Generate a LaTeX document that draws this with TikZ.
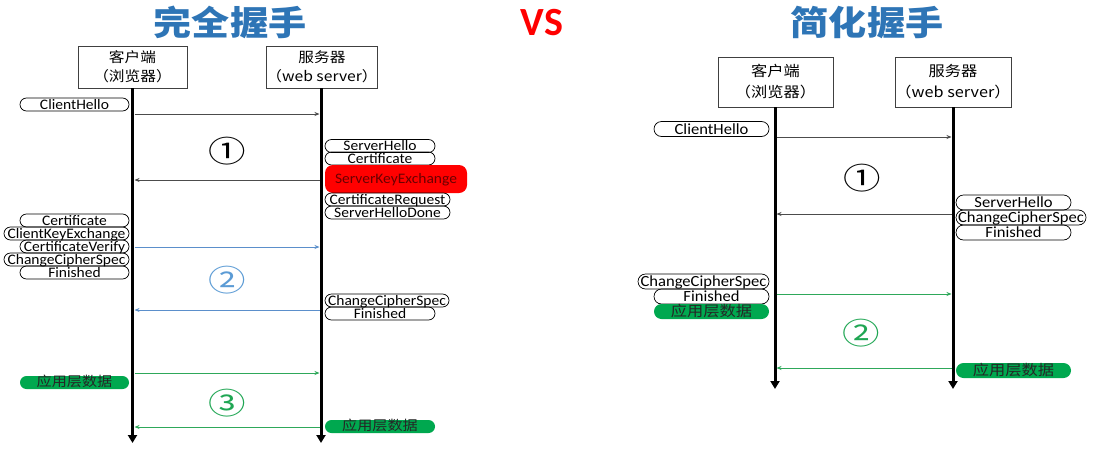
\documentclass[tikz,border=0pt]{standalone}
\usepackage{fontspec}
\setmainfont{Carlito}
\newfontfamily\cjkw[FakeStretch=1.12]{Noto Sans CJK SC}
\newfontfamily\numf[FakeStretch=1.25]{Noto Sans CJK SC}
\newfontfamily\pillf[FakeStretch=1.07]{Carlito}
\usetikzlibrary{arrows.meta}
\definecolor{titleblue}{HTML}{2E75B6}
\definecolor{vsred}{HTML}{FF0000}
\definecolor{msgblue}{HTML}{5B8FCB}
\definecolor{numblue}{HTML}{5B9BD5}
\definecolor{msggreen}{HTML}{2EA85A}
\definecolor{numgreen}{HTML}{1FA653}
\definecolor{pillgreen}{HTML}{00A84F}
\definecolor{keyred}{HTML}{FF0000}
\definecolor{keytext}{HTML}{6A0000}
\tikzset{
 party/.style={draw=black!75, line width=0.9pt, fill=white, align=center, inner sep=0pt},
 partyL/.style={party, minimum height=42pt, font=\cjkw\fontsize{14}{19}\selectfont},
 partyR/.style={party, minimum height=50pt, font=\cjkw\fontsize{14.5}{21}\selectfont},
 life/.style={line width=3pt, -{Triangle[width=9pt,length=8pt]}},
 msg/.style={line width=0.9pt, -{Stealth[length=5pt,width=4pt]}},
 msgblack/.style={msg, draw=black!70},
 msgb/.style={msg, draw=msgblue},
 msgg/.style={msg, draw=msggreen},
 pill/.style={draw, line width=0.7pt, inner sep=0pt, minimum height=13pt, rounded corners=6.5pt, text height=11pt, text depth=2pt, font=\pillf\fontsize{14.5}{14.5}\selectfont},
 bigpill/.style={pill, minimum height=15pt, rounded corners=7.5pt, text height=12.5pt, text depth=2.5pt, font=\pillf\fontsize{15.5}{15.5}\selectfont},
 gpill/.style={pill, draw=none, fill=pillgreen, text=black!85, text height=10.5pt, text depth=2.5pt, font=\cjkw\fontsize{13.5}{13.5}\selectfont},
 gbigpill/.style={bigpill, draw=none, fill=pillgreen, text=black!85, text height=12pt, text depth=3pt, font=\cjkw\fontsize{14.5}{14.5}\selectfont},
 keypill/.style={pill, draw=none, fill=keyred, text=keytext, minimum height=28pt, rounded corners=8pt, text height=11pt, text depth=1.5pt},
 title/.style={font=\cjkw\bfseries\fontsize{34}{34}\selectfont, text=titleblue, inner sep=0pt},
 num/.style={font=\numf\fontsize{30}{30}\selectfont, inner sep=0pt},
}
\begin{document}
\begin{tikzpicture}[x=1pt,y=-1pt]
\useasboundingbox[fill=white] (0,0) rectangle (1103,453);

% ---------- titles ----------
\node[title] (t1) at (230,22) {完全握手};
\node[font=\bfseries\fontsize{40}{40}\selectfont, text=vsred, inner sep=0pt] (vs) at (542,23) {VS};
\node[title] (t2) at (867,22) {简化握手};

% ---------- left: full handshake ----------
\node[partyL, minimum width=109pt] (c1) at (132.5,67) {客户端\\（浏览器）};
\node[partyL, minimum width=110pt] (s1) at (322,67) {服务器\\（web server）};
\coordinate (c1end) at (132.5,443);
\coordinate (s1end) at (321,443);
\draw[life] (c1.south) -- (c1end);
\draw[life] (s1.south -| s1end) -- (s1end);

\node[pill, minimum width=109pt] (ch1) at (74.5,104.5) {ClientHello};
\coordinate (a1) at (134.5,114); \coordinate (b1) at (319.5,114);
\draw[msgblack] (a1) -- (b1);

\node[num] (n1) at (227,151) {①};

\node[pill, minimum width=110pt] (sh1) at (380,146) {ServerHello};
\node[pill, minimum width=110pt] (ce1) at (380,158.5) {Certificate};
\node[keypill, minimum width=142pt] (ske) at (396,179) {ServerKeyExchange};
\node[pill, minimum width=125pt] (cr) at (387.5,199.5) {CertificateRequest};
\node[pill, minimum width=125pt] (shd) at (387.5,212.5) {ServerHelloDone};
\coordinate (a2) at (319.5,180); \coordinate (b2) at (134.5,180);
\draw[msgblack] (a2) -- (b2);

\node[pill, minimum width=109pt] (ce2) at (74.5,220.5) {Certificate};
\node[pill, minimum width=125pt] (cke) at (66.5,233.5) {ClientKeyExchange};
\node[pill, minimum width=109pt] (cv) at (74.5,246.5) {CertificateVerify};
\node[pill, minimum width=125pt] (ccs1) at (66.5,259.5) {ChangeCipherSpec};
\node[pill, minimum width=109pt] (fin1) at (74.5,272.5) {Finished};
\coordinate (a3) at (134.5,247); \coordinate (b3) at (319.5,247);
\draw[msgb] (a3) -- (b3);

\node[num, text=numblue] (n2) at (227,280) {②};

\node[pill, minimum width=124pt] (ccs2) at (387,300.5) {ChangeCipherSpec};
\node[pill, minimum width=110pt] (fin2) at (380,313.5) {Finished};
\coordinate (a4) at (319.5,310); \coordinate (b4) at (134.5,310);
\draw[msgb] (a4) -- (b4);

\node[gpill, minimum width=109pt] (app1) at (74.5,382.5) {应用层数据};
\coordinate (a5) at (134.5,373); \coordinate (b5) at (319.5,373);
\draw[msgg] (a5) -- (b5);

\node[num, text=numgreen] (n3) at (227,403) {③};

\node[gpill, minimum width=110pt] (app2) at (380,426.5) {应用层数据};
\coordinate (a6) at (319.5,427); \coordinate (b6) at (134.5,427);
\draw[msgg] (a6) -- (b6);

% ---------- right: abbreviated handshake ----------
\node[partyR, minimum width=115pt] (c2) at (775.5,82) {客户端\\（浏览器）};
\node[partyR, minimum width=116pt] (s2) at (953,82) {服务器\\（web server）};
\coordinate (c2end) at (775,389);
\coordinate (s2end) at (953,389);
\draw[life] (c2.south -| c2end) -- (c2end);
\draw[life] (s2.south) -- (s2end);

\node[bigpill, minimum width=115pt] (ch2) at (711.5,129) {ClientHello};
\coordinate (a7) at (776.5,137); \coordinate (b7) at (951.5,137);
\draw[msgblack] (a7) -- (b7);

\node[num] (n4) at (862,178) {①};

\node[bigpill, minimum width=115pt] (sh2) at (1013.5,202.5) {ServerHello};
\node[bigpill, minimum width=130pt] (ccs3) at (1021,217.5) {ChangeCipherSpec};
\node[bigpill, minimum width=115pt] (fin3) at (1013.5,232.5) {Finished};
\coordinate (a8) at (951.5,214); \coordinate (b8) at (776.5,214);
\draw[msgblack] (a8) -- (b8);

\node[bigpill, minimum width=131pt] (ccs4) at (703.5,281.5) {ChangeCipherSpec};
\node[bigpill, minimum width=115pt] (fin4) at (711.5,296.5) {Finished};
\node[gbigpill, minimum width=115pt] (app3) at (711.5,311.5) {应用层数据};
\coordinate (a9) at (776.5,294); \coordinate (b9) at (951.5,294);
\draw[msgg] (a9) -- (b9);

\node[num, text=numgreen] (n5) at (861,333) {②};

\node[gbigpill, minimum width=115pt] (app4) at (1013.5,370.5) {应用层数据};
\coordinate (a10) at (951.5,368); \coordinate (b10) at (776.5,368);
\draw[msgg] (a10) -- (b10);
\end{tikzpicture}
\end{document}
